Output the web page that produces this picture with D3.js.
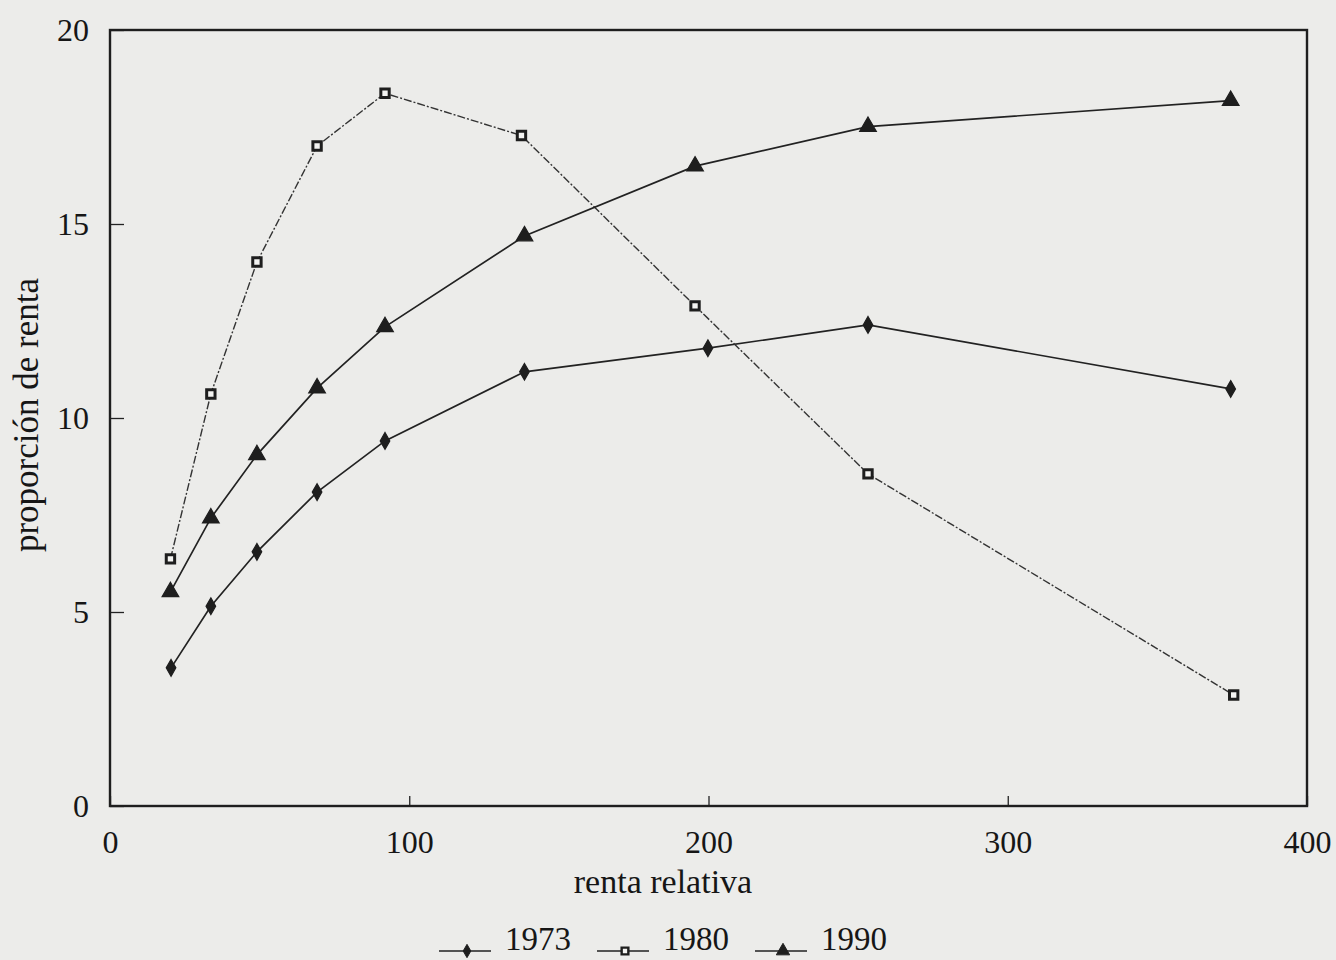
<!DOCTYPE html>
<html>
<head>
<meta charset="utf-8">
<script src="https://cdn.jsdelivr.net/npm/d3@7"></script>
<style>
  body { margin: 0; background: #ececea; }
  svg { display: block; }
  text { font-family: "Liberation Serif", "DejaVu Serif", serif; fill: #161616; }
</style>
</head>
<body>
<svg id="chart" width="1336" height="960"></svg>
<script>
// renta relativa (x) and proporción de renta (y) for each year
var x1973 = [20.4, 33.7, 49.1, 69.2, 91.9, 138.5, 199.8, 253.3, 374.5];
var y1973 = [3.56, 5.15, 6.55, 8.09, 9.41, 11.19, 11.8, 12.4, 10.75];

var x1980 = [20.2, 33.7, 49.1, 69.2, 91.9, 137.5, 195.5, 253.3, 375.5];
var y1980 = [6.37, 10.62, 14.02, 17.01, 18.37, 17.28, 12.89, 8.56, 2.86];

var x1990 = [20.2, 33.7, 49.1, 69.2, 91.9, 138.5, 195.5, 253.3, 374.5];
var y1990 = [5.52, 7.42, 9.05, 10.77, 12.35, 14.69, 16.49, 17.51, 18.18];

var years = ["1973", "1980", "1990"];
var xTicks = [0, 100, 200, 300, 400];
var yTicks = [0, 5, 10, 15, 20];

function pts(xs, ys){
    return xs.map(function(d, i){ return [d, ys[i]]; });
}

var series = [
    {name: years[0], values: pts(x1973, y1973), marker: "diamond", dash: null, width: 1.7, color: "#222"},
    {name: years[1], values: pts(x1980, y1980), marker: "square", dash: "8,2,2,2", width: 1.4, color: "#333"},
    {name: years[2], values: pts(x1990, y1990), marker: "triangle", dash: null, width: 1.7, color: "#222"}
];

var svg = d3.select("#chart");
var padL = 110, padR = 1307, padT = 30, padB = 806;

var x = d3.scaleLinear().domain([0, 400]).range([padL, padR]);
var y = d3.scaleLinear().domain([0, 20]).range([padB, padT]);

// axes (ticks point inwards)
svg.append("g")
    .attr("transform", "translate(0," + padB + ")")
    .call(d3.axisBottom(x).tickValues(xTicks).tickSize(-10).tickPadding(24).tickFormat(d3.format("d")))
    .call(function(g){
        g.select(".domain").remove();
        g.selectAll("line").attr("stroke", "#222").attr("stroke-width", 1.3);
        g.selectAll("text").attr("font-size", 32).attr("font-family", null).style("fill", "#161616");
    });

svg.append("g")
    .attr("transform", "translate(" + padL + ",0)")
    .call(d3.axisLeft(y).tickValues(yTicks).tickSize(-14).tickPadding(21).tickFormat(d3.format("d")))
    .call(function(g){
        g.select(".domain").remove();
        g.selectAll("line").attr("stroke", "#222").attr("stroke-width", 1.3);
        g.selectAll("text").attr("font-size", 32).attr("font-family", null).style("fill", "#161616");
    });

// frame
svg.append("rect")
    .attr("x", padL).attr("y", padT)
    .attr("width", padR - padL).attr("height", padB - padT)
    .attr("fill", "none").attr("stroke", "#1e1e1e").attr("stroke-width", 2.4);

var line = d3.line()
    .x(function(d){ return x(d[0]); })
    .y(function(d){ return y(d[1]); });

var symbols = {
    diamond: d3.symbol().type(d3.symbolDiamond).size(80),
    square: d3.symbol().type(d3.symbolSquare).size(70),
    triangle: d3.symbol().type(d3.symbolTriangle).size(120)
};

function drawMarker(g, type, color){
    g.append("path")
        .attr("d", symbols[type]())
        .attr("fill", type === "square" ? "#f4f4f2" : color)
        .attr("stroke", color)
        .attr("stroke-width", type === "square" ? 3 : 1.2);
}

series.forEach(function(s){
    svg.append("path")
        .datum(s.values)
        .attr("d", line)
        .attr("fill", "none")
        .attr("stroke", s.color)
        .attr("stroke-width", s.width)
        .attr("stroke-dasharray", s.dash);

    svg.append("g").selectAll("g")
        .data(s.values)
        .join("g")
        .attr("transform", function(d){ return "translate(" + x(d[0]) + "," + y(d[1]) + ")"; })
        .each(function(){ drawMarker(d3.select(this), s.marker, "#1e1e1e"); });
});

// axis titles
svg.append("text")
    .attr("x", 663).attr("y", 893)
    .attr("text-anchor", "middle")
    .attr("font-size", 34)
    .text("renta relativa");

svg.append("text")
    .attr("transform", "translate(38,415) rotate(-90)")
    .attr("text-anchor", "middle")
    .attr("font-size", 35)
    .text("proporción de renta");

// legend
var legendX = [439, 597, 755];
var legend = svg.append("g").selectAll("g")
    .data(series)
    .join("g")
    .attr("transform", function(d, i){ return "translate(" + legendX[i] + ",951)"; });

legend.append("line")
    .attr("x1", 0).attr("x2", 52)
    .attr("y1", 0).attr("y2", 0)
    .attr("stroke", "#222").attr("stroke-width", 1.5);

legend.each(function(d){
    var m = d3.select(this).append("g").attr("transform", "translate(28,0) scale(0.8)");
    drawMarker(m, d.marker, "#1e1e1e");
});

legend.append("text")
    .attr("x", 66).attr("y", -1)
    .attr("font-size", 33)
    .text(function(d){ return d.name; });
</script>
</body>
</html>
